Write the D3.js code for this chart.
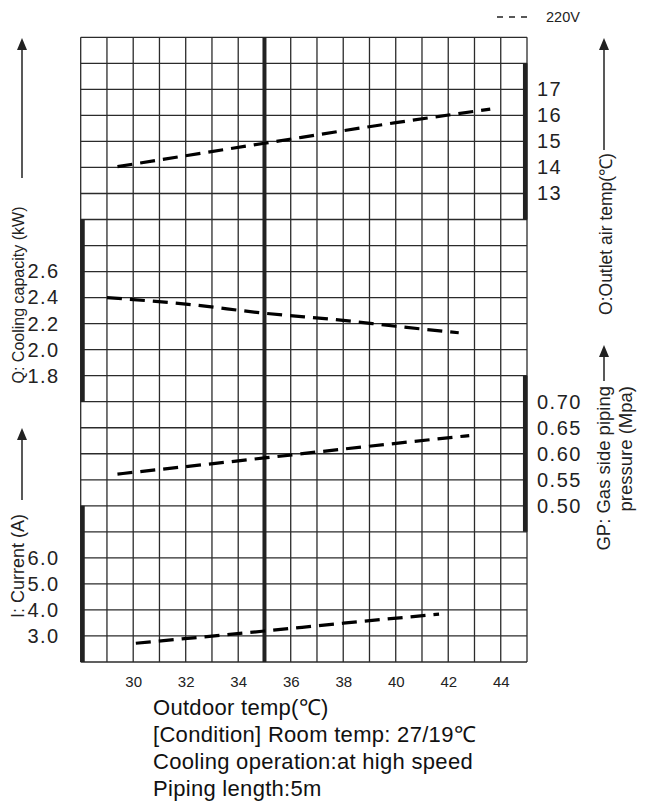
<!DOCTYPE html>
<html>
<head>
<meta charset="utf-8">
<script src="https://cdn.jsdelivr.net/npm/d3@7/dist/d3.min.js"></script>
<style>
  html, body { margin: 0; padding: 0; background: #fff; }
  svg { display: block; font-family: "Liberation Sans", Arial, sans-serif; }
</style>
</head>
<body>
<svg id="chart" width="645" height="806"></svg>
<script>
// Outdoor temperature axis (°C)
const outdoorDomain = [28, 45];
const outdoorTicks = [30, 32, 34, 36, 38, 40, 42, 44];
const ratedTemp = 35;

// Grid rows
const rowCount = 24;

// Q: cooling capacity (kW)
const qTicks = [2.6, 2.4, 2.2, 2.0, 1.8];
const qTemp  = [29, 32, 35, 38, 40, 42.4];
const qValue = [2.40, 2.35, 2.28, 2.225, 2.18, 2.13];

// O: outlet air temperature (°C)
const oTicks = [17, 16, 15, 14, 13];
const oTemp  = [29.4, 35, 40, 43.6];
const oValue = [14.03, 14.93, 15.72, 16.24];

// GP: gas side piping pressure (MPa)
const gpTicks = [0.70, 0.65, 0.60, 0.55, 0.50];
const gpTemp  = [29.4, 35, 38, 42.8];
const gpValue = [0.561, 0.592, 0.609, 0.635];

// I: current (A)
const iTicks = [6.0, 5.0, 4.0, 3.0];
const iTemp  = [30.1, 35, 38, 41.65];
const iValue = [2.72, 3.19, 3.49, 3.84];

const legendLabel = "220V";
const conditionLines = [
  "Outdoor temp(\u2103)",
  "[Condition] Room temp: 27/19\u2103",
  "Cooling operation:at high speed",
  "Piping length:5m"
];

const svg = d3.select("#chart");
const gLeft = 80.7, gRight = 527, gTop = 37.3, gBottom = 662;
const ink = "#222";

const x = d3.scaleLinear().domain(outdoorDomain).range([gLeft, gRight]);
const row = d3.scaleLinear().domain([0, rowCount]).range([gTop, gBottom]);

// Each quantity occupies a band of grid rows
const qScale  = d3.scaleLinear().domain([3.0, 1.6]).range([row(7), row(14)]);
const oScale  = d3.scaleLinear().domain([18, 12]).range([row(1), row(7)]);
const gpScale = d3.scaleLinear().domain([0.75, 0.45]).range([row(13), row(19)]);
const iScale  = d3.scaleLinear().domain([8, 2]).range([row(18), row(24)]);

// Grid
const grid = svg.append("g").attr("stroke", "#2b2b2b").attr("stroke-width", 1.3);
grid.selectAll("line.v").data(d3.range(outdoorDomain[0], outdoorDomain[1] + 1))
  .join("line").attr("class", "v")
  .attr("x1", d => x(d)).attr("x2", d => x(d))
  .attr("y1", gTop).attr("y2", gBottom);
grid.selectAll("line.h").data(d3.range(0, rowCount + 1))
  .join("line").attr("class", "h")
  .attr("x1", gLeft).attr("x2", gRight)
  .attr("y1", d => row(d)).attr("y2", d => row(d));

// Rated temperature line
svg.append("line")
  .attr("x1", x(ratedTemp)).attr("x2", x(ratedTemp))
  .attr("y1", gTop).attr("y2", gBottom)
  .attr("stroke", ink).attr("stroke-width", 4);

// Heavy bars marking each scale's range
function scaleBar(scale, side) {
  const [a, b] = scale.range();
  const bx = side === "left" ? gLeft + 1.8 : gRight - 1.8;
  svg.append("line")
    .attr("x1", bx).attr("x2", bx).attr("y1", a).attr("y2", b)
    .attr("stroke", ink).attr("stroke-width", 4.5);
}
scaleBar(qScale, "left");
scaleBar(iScale, "left");
scaleBar(oScale, "right");
scaleBar(gpScale, "right");

// Tick labels
function styleAxis(g) {
  g.select(".domain").remove();
  g.selectAll(".tick line").remove();
  g.selectAll("text")
    .attr("fill", ink)
    .style("font-size", "20px")
    .style("letter-spacing", "1.5px")
    .style("font-family", "'Liberation Sans', Arial, sans-serif");
}
svg.append("g").attr("transform", `translate(${gLeft},0)`)
  .call(d3.axisLeft(qScale).tickValues(qTicks).tickFormat(d3.format(".1f")).tickSize(0).tickPadding(21))
  .call(styleAxis);
svg.append("g").attr("transform", `translate(${gLeft},0)`)
  .call(d3.axisLeft(iScale).tickValues(iTicks).tickFormat(d3.format(".1f")).tickSize(0).tickPadding(21))
  .call(styleAxis);
svg.append("g").attr("transform", `translate(${gRight},0)`)
  .call(d3.axisRight(oScale).tickValues(oTicks).tickFormat(d3.format("d")).tickSize(0).tickPadding(10))
  .call(styleAxis);
svg.append("g").attr("transform", `translate(${gRight},0)`)
  .call(d3.axisRight(gpScale).tickValues(gpTicks).tickFormat(d3.format(".2f")).tickSize(0).tickPadding(10))
  .call(styleAxis);

const xAxis = svg.append("g").attr("transform", `translate(0,${gBottom})`)
  .call(d3.axisBottom(x).tickValues(outdoorTicks).tickFormat(d3.format("d")).tickSize(0).tickPadding(14));
xAxis.select(".domain").remove();
xAxis.selectAll("text").attr("fill", ink).style("font-size", "15px")
  .style("font-family", "'Liberation Sans', Arial, sans-serif");

// Performance curves
const series = [
  { temp: qTemp, value: qValue, scale: qScale },
  { temp: oTemp, value: oValue, scale: oScale },
  { temp: gpTemp, value: gpValue, scale: gpScale },
  { temp: iTemp, value: iValue, scale: iScale }
];
series.forEach(s => {
  const pts = s.temp.map((t, i) => [t, s.value[i]]);
  svg.append("path")
    .datum(pts)
    .attr("d", d3.line().x(d => x(d[0])).y(d => s.scale(d[1])).curve(d3.curveMonotoneX))
    .attr("fill", "none").attr("stroke", "#000")
    .attr("stroke-width", 3.2).attr("stroke-dasharray", "15,8");
});

// Axis titles with arrows
function arrow(ax, yTip, yEnd) {
  svg.append("line").attr("x1", ax).attr("x2", ax).attr("y1", yTip + 8).attr("y2", yEnd)
    .attr("stroke", ink).attr("stroke-width", 1.5);
  svg.append("path")
    .attr("d", `M${ax},${yTip} L${ax - 5},${yTip + 12} L${ax + 5},${yTip + 12} Z`)
    .attr("fill", ink);
}
function vtext(cx, cy, txt, size, anchor) {
  svg.append("text")
    .attr("transform", `translate(${cx},${cy}) rotate(-90)`)
    .attr("text-anchor", anchor || "middle")
    .attr("dy", "0.35em")
    .attr("fill", ink)
    .style("font-size", size + "px")
    .text(txt);
}
arrow(22, 38, 178);
vtext(18, 295, "Q: Cooling capacity (kW)", 16);
arrow(22, 428, 500);
vtext(18, 566, "I: Current (A)", 18);
arrow(604, 38, 150);
vtext(606, 234, "O:Outlet air temp(\u2103)", 17.5);
arrow(604, 345, 381);
vtext(604, 386, "GP: Gas side piping", 18.5, "end");
vtext(626, 386, "pressure (Mpa)", 18.5, "end");

// Legend
svg.append("line").attr("x1", 497).attr("x2", 528).attr("y1", 17).attr("y2", 17)
  .attr("stroke", ink).attr("stroke-width", 1.5).attr("stroke-dasharray", "6,6");
svg.append("text").attr("x", 546).attr("y", 22).attr("fill", ink)
  .style("font-size", "14.5px").text(legendLabel);

// Condition notes
svg.append("g").selectAll("text").data(conditionLines).join("text")
  .attr("x", 153)
  .attr("y", (d, i) => 715 + i * 27)
  .attr("fill", "#111")
  .style("font-size", "22px")
  .style("letter-spacing", "0.3px")
  .text(d => d);
</script>
</body>
</html>
